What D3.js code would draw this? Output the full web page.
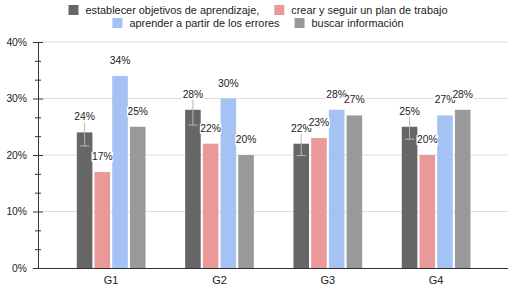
<!DOCTYPE html>
<html>
<head>
<meta charset="utf-8">
<script src="https://cdn.jsdelivr.net/npm/d3@7"></script>
<style>
html,body{margin:0;padding:0;background:#fff;}
svg{display:block;font-family:"Liberation Sans",Arial,Helvetica,sans-serif;}
</style>
</head>
<body>
<svg id="chart" width="514" height="294"></svg>
<script>
const groups = ["G1", "G2", "G3", "G4"];
const seriesNames = ["establecer objetivos de aprendizaje,", "crear y seguir un plan de trabajo", "aprender a partir de los errores", "buscar información"];
const seriesColors = ["#666666", "#ea9999", "#a4c2f4", "#999999"];
const establecer = [24, 28, 22, 25];
const crear = [17, 22, 23, 20];
const aprender = [34, 30, 28, 27];
const buscar = [25, 20, 27, 28];
const establecerError = [2.4, 2.7, 2.1, 2.2];
const yMajorTicks = [0, 10, 20, 30, 40];
const yMinorTicks = [10/3, 20/3, 40/3, 50/3, 70/3, 80/3, 100/3, 110/3];

const seriesValues = [establecer, crear, aprender, buscar];

const svg = d3.select("#chart");
const y = d3.scaleLinear().domain([0, 40]).range([268, 42]);
const x0 = d3.scaleBand().domain(groups).range([57, 490.3]).paddingInner(0.346).paddingOuter(0.173);
const x1 = d3.scaleBand().domain(d3.range(4)).range([0, x0.bandwidth()]).paddingInner(0.12).paddingOuter(0.06);

// gridlines
svg.append("g").selectAll("line").data(yMajorTicks.filter(d => d > 0)).join("line")
  .attr("x1", 43).attr("x2", 508).attr("y1", d => y(d)).attr("y2", d => y(d))
  .attr("stroke", "#dedede").attr("stroke-width", 1);

// bars
const gGroups = svg.append("g").selectAll("g").data(groups).join("g")
  .attr("transform", d => `translate(${x0(d)},0)`);
gGroups.each(function(g, gi) {
  const sel = d3.select(this);
  seriesValues.forEach((vals, si) => {
    sel.append("rect")
      .attr("x", x1(si)).attr("width", x1.bandwidth())
      .attr("y", y(vals[gi])).attr("height", y(0) - y(vals[gi]))
      .attr("fill", seriesColors[si]);
  });
  // error bar on first series
  const cx = x1(0) + x1.bandwidth() / 2;
  const v = establecer[gi], e = establecerError[gi];
  sel.append("line").attr("x1", cx).attr("x2", cx).attr("y1", y(v + e)).attr("y2", y(v - e))
    .attr("stroke", "#b8b8b8").attr("stroke-width", 1);
  [v + e, v - e].forEach(t => {
    sel.append("line").attr("x1", cx - 4.5).attr("x2", cx + 4.5).attr("y1", y(t)).attr("y2", y(t))
      .attr("stroke", "#b8b8b8").attr("stroke-width", 1);
  });
});

// value labels
gGroups.each(function(g, gi) {
  const sel = d3.select(this);
  seriesValues.forEach((vals, si) => {
    const cx = x1(si) + x1.bandwidth() / 2;
    const lg = sel.append("g");
    const bg = lg.append("rect").attr("fill", "#fff");
    const t = lg.append("text")
      .attr("x", cx).attr("y", y(vals[gi]) - 12)
      .attr("text-anchor", "middle").attr("font-size", 10.3).attr("fill", "#222")
      .text(vals[gi] + "%");
    const bb = t.node().getBBox();
    bg.attr("x", bb.x - 0.5).attr("y", bb.y + 1).attr("width", bb.width + 1).attr("height", bb.height - 1);
  });
});

// y axis
const yAxis = svg.append("g").attr("transform", "translate(38,0)")
  .call(d3.axisLeft(y).tickValues(yMajorTicks).tickFormat(d => d + "%").tickSizeInner(5).tickSizeOuter(0).tickPadding(6));
yAxis.select(".domain").attr("stroke", "#333");
yAxis.selectAll(".tick line").attr("x1", 5).attr("stroke", "#333");
yAxis.selectAll(".tick text").attr("font-size", 10.3).attr("fill", "#222").attr("font-family", null);
const yMinor = svg.append("g").attr("transform", "translate(38,0)")
  .call(d3.axisLeft(y).tickValues(yMinorTicks).tickFormat("").tickSizeInner(3).tickSizeOuter(0));
yMinor.select(".domain").remove();
yMinor.selectAll(".tick line").attr("x1", 3).attr("stroke", "#333");

// x axis
const xAxis = svg.append("g").attr("transform", `translate(0,${y(0)})`)
  .call(d3.axisBottom(x0).tickSize(0).tickPadding(8));
xAxis.select(".domain").attr("d", "M38,0.5H508").attr("stroke", "#333");
xAxis.selectAll(".tick text").attr("font-size", 11).attr("fill", "#222").attr("font-family", null);

// legend
const rows = [[0, 1], [2, 3]];
const rowY = [10, 23];
rows.forEach((row, ri) => {
  const lg = svg.append("g");
  let cur = 0;
  row.forEach((si, k) => {
    const item = lg.append("g").attr("transform", `translate(${cur},0)`);
    item.append("rect").attr("x", 0).attr("y", rowY[ri] - 5).attr("width", 10).attr("height", 10)
      .attr("fill", seriesColors[si]);
    const t = item.append("text").attr("x", 17).attr("y", rowY[ri] + 3.8)
      .attr("font-size", 10.9).attr("fill", "#222").text(seriesNames[si]);
    cur += 17 + t.node().getComputedTextLength() + 15;
  });
  const total = cur - 15;
  lg.attr("transform", `translate(${258 - total / 2},0)`);
});
</script>
</body>
</html>
